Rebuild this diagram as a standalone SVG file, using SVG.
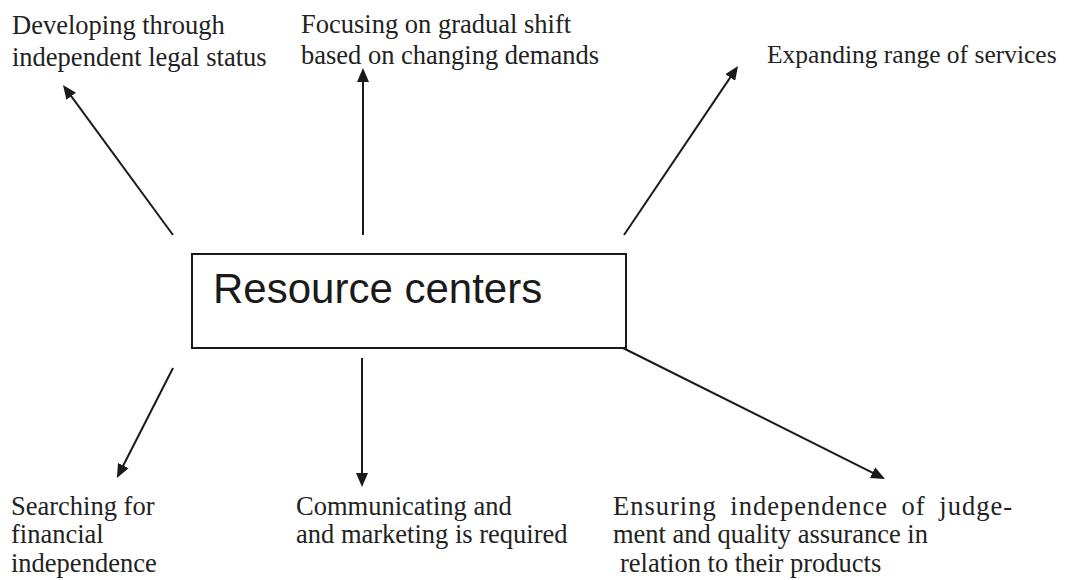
<svg xmlns="http://www.w3.org/2000/svg" width="1065" height="580" viewBox="0 0 1065 580">
<style>
.lbl{font-family:"Liberation Serif","Times New Roman",serif;font-size:26.5px;fill:#222}
.title{font-family:"Liberation Sans",Arial,sans-serif;font-size:42px;fill:#1a1a1a}
.box{fill:#fff;stroke:#1a1a1a;stroke-width:2}
.conn line{stroke:#1a1a1a;stroke-width:2;fill:none;marker-end:url(#ah)}
</style>
<defs>
<marker id="ah" viewBox="0 0 14 12" refX="2" refY="6" markerWidth="14" markerHeight="12" markerUnits="userSpaceOnUse" orient="auto">
<path d="M0,0 L14,6 L0,12 z" fill="#1a1a1a"/>
</marker>
</defs>
<rect width="1065" height="580" fill="#fff"/>
<g id="connectors" class="conn">
<line x1="173" y1="235" x2="70.1" y2="94.7"/>
<line x1="363" y1="235" x2="363" y2="80"/>
<line x1="624" y1="235" x2="731.3" y2="75.9"/>
<line x1="173" y1="368" x2="122.4" y2="467.3"/>
<line x1="362" y1="358" x2="362" y2="475"/>
<line x1="623" y1="348" x2="874.3" y2="473.6"/>
</g>
<g id="center">
<rect class="box" x="192" y="254" width="434" height="94"/>
<text class="title" x="213" y="303">Resource centers</text>
</g>
<g id="n-legal">
<text class="lbl" x="12" y="34">Developing through</text>
<text class="lbl" x="12" y="66">independent legal status</text>
</g>
<g id="n-shift">
<text class="lbl" x="301" y="33">Focusing on gradual shift</text>
<text class="lbl" x="301" y="64">based on changing demands</text>
</g>
<g id="n-services">
<text class="lbl" x="767" y="63" style="font-size:25.5px">Expanding range of services</text>
</g>
<g id="n-financial">
<text class="lbl" x="11" y="515">Searching for</text>
<text class="lbl" x="11" y="543">financial</text>
<text class="lbl" x="11" y="572">independence</text>
</g>
<g id="n-marketing">
<text class="lbl" x="296" y="515">Communicating and</text>
<text class="lbl" x="296" y="543">and marketing is required</text>
</g>
<g id="n-quality">
<text class="lbl" x="613" y="515" style="word-spacing:6px;letter-spacing:1px">Ensuring independence of judge-</text>
<text class="lbl" x="613" y="543">ment and quality assurance in</text>
<text class="lbl" x="620" y="572">relation to their products</text>
</g>
</svg>
